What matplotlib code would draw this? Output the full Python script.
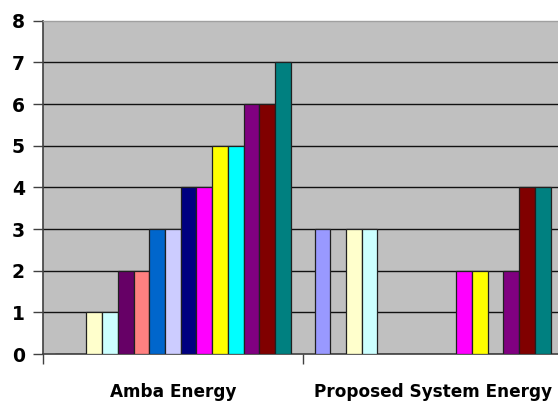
import matplotlib
matplotlib.use("Agg")
import matplotlib.pyplot as plt
import numpy as np

categories = ["Amba Energy", "Proposed System Energy"]
series_names = [f"Series {i}" for i in range(1, 16)]
amba_values = [0, 0, 1, 1, 2, 2, 3, 3, 4, 4, 5, 5, 6, 6, 7]
proposed_values = [3, 0, 3, 3, 0, 0, 0, 0, 0, 2, 2, 0, 2, 4, 4]
series_colors = ["#9999FF", "#993366", "#FFFFCC", "#CCFFFF", "#660066",
                 "#FF8080", "#0066CC", "#CCCCFF", "#000080", "#FF00FF",
                 "#FFFF00", "#00FFFF", "#800080", "#800000", "#008080"]
y_ticks = [0, 1, 2, 3, 4, 5, 6, 7, 8]

fig = plt.figure(figsize=(5.58, 4.05), dpi=100)
ax = fig.add_axes([43 / 558, 1 - 354 / 405, 519.4 / 558, (354 - 20.7) / 405])
ax.set_facecolor("#C0C0C0")

n = len(series_names)
w = 1 / (n + 1.5)
x = np.arange(len(categories))
for j, (name, col) in enumerate(zip(series_names, series_colors)):
    vals = [amba_values[j], proposed_values[j]]
    offs = x - n * w / 2 + (j + 0.5) * w
    ax.bar(offs, vals, width=w, color=col, edgecolor="#202020",
           linewidth=0.9, label=name, zorder=3)

ax.set_xlim(-0.5, len(categories) - 0.5)
ax.set_ylim(0, 8)
ax.set_yticks(y_ticks)
ax.set_yticklabels([str(t) for t in y_ticks], fontsize=13.5, fontweight="heavy")
for t in y_ticks[1:-1]:
    ax.axhline(t, color="#111111", linewidth=1.0, zorder=1)

ax.set_xticks(x)
ax.set_xticklabels(categories, fontsize=12.2, fontweight="heavy")
ax.set_xticks([-0.5, 0.5, 1.5], minor=True)
ax.tick_params(axis="x", which="major", length=0, pad=21)
ax.tick_params(axis="x", which="minor", length=7, width=1, color="#404040",
               direction="out")
ax.tick_params(axis="y", length=7, width=1, color="#404040", direction="out",
               pad=6)

for s in ["left", "bottom"]:
    ax.spines[s].set_color("#404040")
    ax.spines[s].set_linewidth(1.2)
ax.spines["top"].set_color("#A0A0A0")
ax.spines["top"].set_linewidth(1.0)
ax.spines["right"].set_visible(False)

fig.savefig("out.png", dpi=100)
